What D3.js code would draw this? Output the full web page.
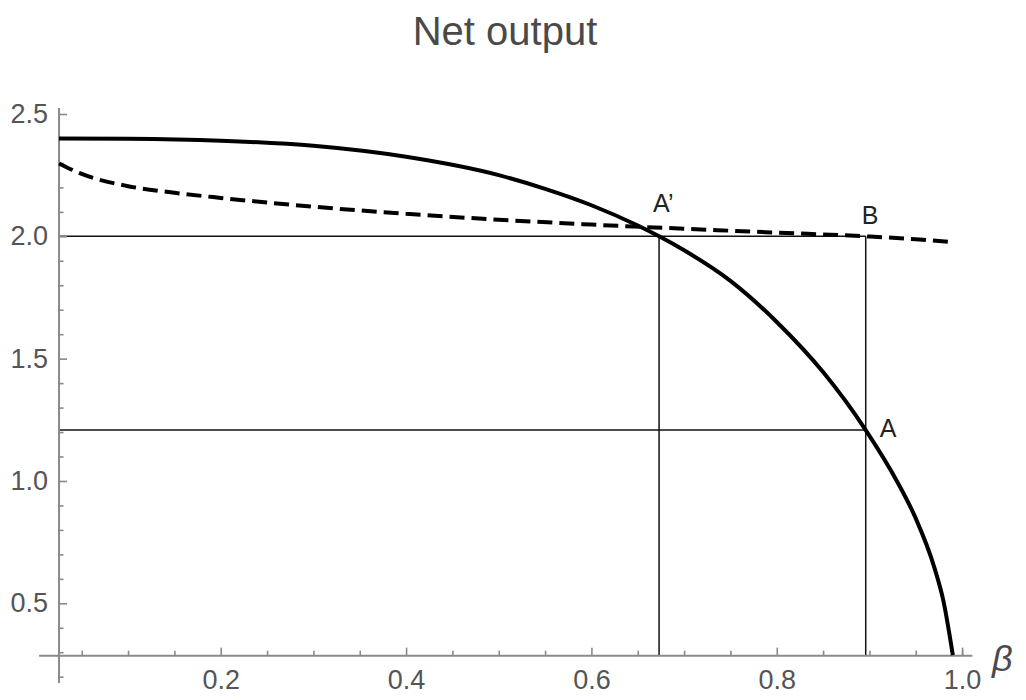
<!DOCTYPE html>
<html>
<head>
<meta charset="utf-8">
<script src="https://cdn.jsdelivr.net/npm/d3@7"></script>
<style>
  body { margin: 0; background: #fff; }
  svg { display: block; }
  text { font-family: "Liberation Sans", Arial, Helvetica, sans-serif; }
</style>
</head>
<body>
<svg id="chart" width="1026" height="700"></svg>
<script>
// ---- data ----
const title = "Net output";
const xLabel = "β";

// solid curve: net output (beta, value)
const solidBeta  = [0.0255, 0.1, 0.2, 0.3, 0.4, 0.5, 0.55, 0.6, 0.65, 0.673, 0.7, 0.75, 0.8, 0.85, 0.896, 0.93, 0.95, 0.97, 0.98, 0.99];
const solidValue = [2.400, 2.399, 2.391, 2.370, 2.325, 2.250, 2.194, 2.127, 2.044, 2.000, 1.943, 1.818, 1.650, 1.445, 1.208, 0.997, 0.847, 0.647, 0.507, 0.288];

// dashed curve
const dashBeta  = [0.0255, 0.05, 0.1, 0.15, 0.2, 0.3, 0.4, 0.5, 0.6, 0.7, 0.8, 0.896, 0.95, 0.992];
const dashValue = [2.298, 2.255, 2.205, 2.178, 2.157, 2.121, 2.092, 2.068, 2.048, 2.031, 2.015, 2.000, 1.988, 1.975];

// reference points
const pointNames = ["A’", "B", "A"];
const betaAprime = 0.673, betaB = 0.896;
const levelB = 2.0, levelA = 1.208;

// ticks
const xMajorTicks = [0.2, 0.4, 0.6, 0.8, 1.0];
const xMinorTicks = [0.05, 0.1, 0.15, 0.25, 0.3, 0.35, 0.45, 0.5, 0.55, 0.65, 0.7, 0.75, 0.85, 0.9, 0.95, 1.0];
const yMajorTicks = [0.5, 1.0, 1.5, 2.0, 2.5];
const yMinorTicks = [0.2, 0.3, 0.4, 0.6, 0.7, 0.8, 0.9, 1.1, 1.2, 1.3, 1.4, 1.6, 1.7, 1.8, 1.9, 2.1, 2.2, 2.3, 2.4];

// axes origin and extents (data units)
const axisOriginBeta = 0.0255, axisOriginValue = 0.286;
const xAxisExtent = [0.004, 1.011];
const yAxisExtent = [0.174, 2.525];

// ---- drawing ----
const svg = d3.select("#chart");
const x = d3.scaleLinear().domain([0, 1]).range([35.4, 962.1]);
const y = d3.scaleLinear().domain([0.5, 2.5]).range([603.3, 114]);

const axisColor = "#8a8a8a";
const labelColor = "#555";

// title
svg.append("text").attr("x", 505).attr("y", 45).attr("text-anchor", "middle")
  .attr("font-size", 40).attr("fill", "#4a4a4a").text(title);

// thin guide lines
const guides = svg.append("g").attr("stroke", "#111").attr("stroke-width", 1.5);
guides.append("line").attr("x1", x(axisOriginBeta)).attr("x2", x(betaB)).attr("y1", y(levelB)).attr("y2", y(levelB));
guides.append("line").attr("x1", x(axisOriginBeta)).attr("x2", x(betaB)).attr("y1", y(levelA)).attr("y2", y(levelA));
guides.append("line").attr("x1", x(betaAprime)).attr("x2", x(betaAprime)).attr("y1", y(axisOriginValue)).attr("y2", y(levelB));
guides.append("line").attr("x1", x(betaB)).attr("x2", x(betaB)).attr("y1", y(axisOriginValue)).attr("y2", y(levelB));

// y axis
const yAxisG = svg.append("g").attr("transform", `translate(${x(axisOriginBeta)},0)`);
yAxisG.call(d3.axisLeft(y).tickValues(yMinorTicks).tickSizeInner(-4.5).tickSizeOuter(0).tickFormat(""));
yAxisG.call(g => g.select(".domain").remove());
const yAxisMajor = svg.append("g").attr("transform", `translate(${x(axisOriginBeta)},0)`)
  .call(d3.axisLeft(y).tickValues(yMajorTicks).tickSizeInner(-8).tickSizeOuter(0).tickPadding(11).tickFormat(d3.format(".1f")));
yAxisMajor.select(".domain").remove();

// x axis
const xAxisG = svg.append("g").attr("transform", `translate(0,${y(axisOriginValue)})`);
xAxisG.call(d3.axisBottom(x).tickValues(xMinorTicks).tickSizeInner(-5).tickSizeOuter(0).tickFormat(""));
xAxisG.select(".domain").remove();
const xAxisMajor = svg.append("g").attr("transform", `translate(0,${y(axisOriginValue)})`)
  .call(d3.axisBottom(x).tickValues(xMajorTicks).tickSizeInner(-8).tickSizeOuter(0).tickPadding(14).tickFormat(d3.format(".1f")));
xAxisMajor.select(".domain").remove();

svg.selectAll(".tick line").attr("stroke", axisColor).attr("stroke-width", 1.6);
svg.selectAll(".tick text").attr("fill", labelColor).attr("font-size", 27)
  .attr("font-family", '"Liberation Sans", Arial, sans-serif');

// axis lines
svg.append("line").attr("x1", x(axisOriginBeta)).attr("x2", x(axisOriginBeta))
  .attr("y1", y(yAxisExtent[0])).attr("y2", y(yAxisExtent[1]))
  .attr("stroke", axisColor).attr("stroke-width", 2);
svg.append("line").attr("x1", x(xAxisExtent[0])).attr("x2", x(xAxisExtent[1]))
  .attr("y1", y(axisOriginValue)).attr("y2", y(axisOriginValue))
  .attr("stroke", axisColor).attr("stroke-width", 2);

// x label
svg.append("text").attr("x", 992).attr("y", 671).attr("font-size", 36)
  .attr("font-style", "italic").attr("fill", "#4a4a4a").text(xLabel);

// curves
const line = d3.line().x(d => x(d[0])).y(d => y(d[1])).curve(d3.curveMonotoneX);
svg.append("path").datum(dashBeta.map((b, i) => [b, dashValue[i]]))
  .attr("d", line).attr("fill", "none").attr("stroke", "#000")
  .attr("stroke-width", 4).attr("stroke-dasharray", "15,7");
svg.append("path").datum(solidBeta.map((b, i) => [b, solidValue[i]]))
  .attr("d", line).attr("fill", "none").attr("stroke", "#000")
  .attr("stroke-width", 4);

// point labels
const lbl = svg.append("g").attr("font-size", 25).attr("fill", "#222");
lbl.append("text").attr("x", x(betaAprime) - 6).attr("y", y(levelB) - 24).text(pointNames[0]);
lbl.append("text").attr("x", x(betaB) - 4).attr("y", y(levelB) - 12).text(pointNames[1]);
lbl.append("text").attr("x", x(betaB) + 14).attr("y", y(levelA) + 7).text(pointNames[2]);
</script>
</body>
</html>
